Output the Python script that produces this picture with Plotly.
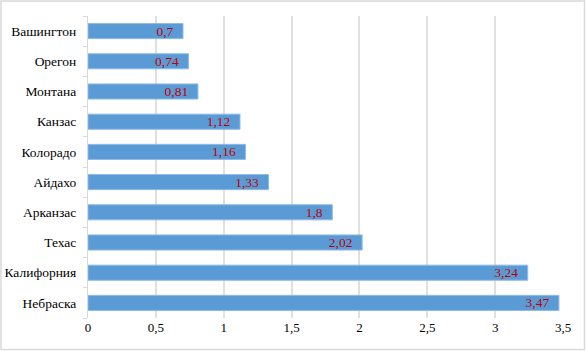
import plotly.graph_objects as go

states = ["Небраска", "Калифорния", "Техас", "Арканзас", "Айдахо",
          "Колорадо", "Канзас", "Монтана", "Орегон", "Вашингтон"]
values = [3.47, 3.24, 2.02, 1.8, 1.33, 1.16, 1.12, 0.81, 0.74, 0.7]
labels = [str(v).replace(".", ",") + "\u00a0\u00a0" for v in values]

W, H = 586, 351
L, R, T, B = 88, 23, 16, 33
FONT = "Liberation Serif"

fig = go.Figure(go.Bar(
    x=values, y=states, orientation="h",
    marker=dict(color="#5b9bd5", line=dict(color="#8dbbe6", width=1)),
    width=0.5,
    text=labels, textposition="inside", insidetextanchor="end",
    constraintext="none",
    textfont=dict(family=FONT, size=13.5, color="#c00000"),
    hoverinfo="skip",
))

pw = W - L - R
ph = H - T - B
fig.add_shape(type="rect", xref="paper", yref="paper",
              x0=-(L - 1) / pw, x1=1 + (R - 1.5) / pw,
              y0=-(B - 1.5) / ph, y1=1 + (T - 1) / ph,
              line=dict(color="#d9d9d9", width=1.5), layer="below")

fig.update_layout(
    width=W, height=H,
    margin=dict(l=L, r=R, t=T, b=B, autoexpand=False),
    paper_bgcolor="white", plot_bgcolor="white",
    separators=", ",
    showlegend=False,
    font=dict(family=FONT, size=13, color="#000000"),
    xaxis=dict(range=[0, 3.5], dtick=0.5, showgrid=True, gridcolor="#e0e0e0",
               gridwidth=1.5, zeroline=False, showline=False, ticks="",
               tickfont=dict(size=13, family=FONT), fixedrange=True),
    yaxis=dict(showgrid=False, showline=True, linecolor="#d9d9d9", linewidth=1,
               ticks="outside", tickson="boundaries", ticklen=4, tickcolor="#d9d9d9",
               ticklabelstandoff=8,
               tickfont=dict(size=13.5, family=FONT),
               categoryorder="array", categoryarray=states, fixedrange=True),
)

fig.write_html("out.html", config={"displayModeBar": False},
               post_script="document.body.style.margin='0';")
